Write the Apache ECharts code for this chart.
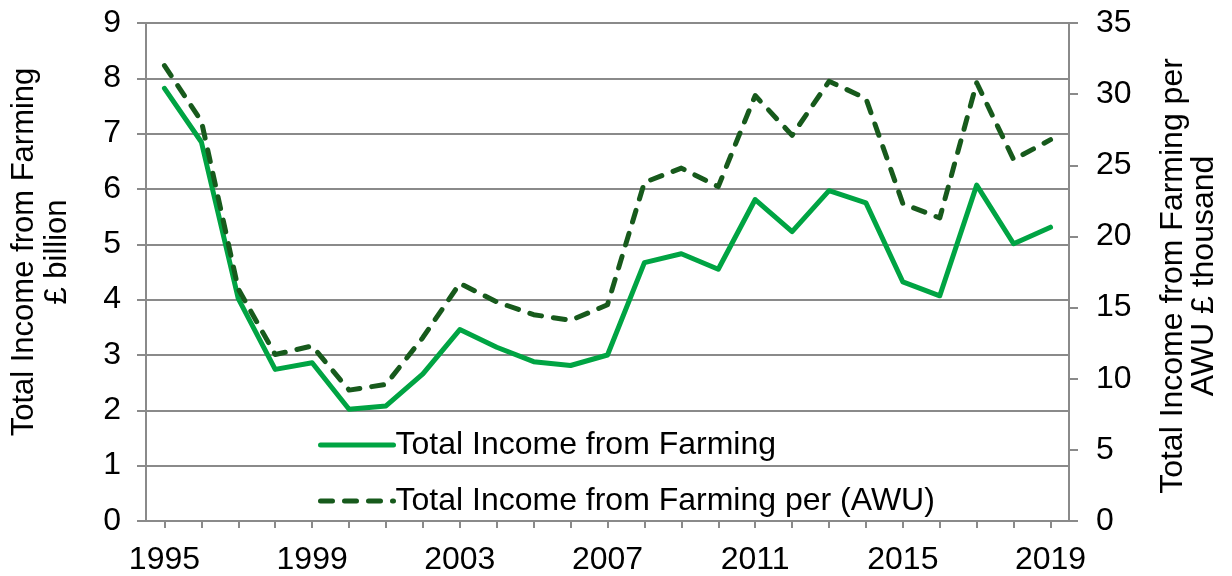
<!DOCTYPE html>
<html>
<head>
<meta charset="utf-8">
<script src="https://cdn.jsdelivr.net/npm/echarts@6/dist/echarts.min.js"></script>
<style>
html,body{margin:0;padding:0;background:#fff;}
#chart{width:1232px;height:576px;}
</style>
</head>
<body>
<div id="chart"></div>
<script>
const years = ['1995','1996','1997','1998','1999','2000','2001','2002','2003','2004','2005','2006','2007','2008','2009','2010','2011','2012','2013','2014','2015','2016','2017','2018','2019'];
const incomeBillion = [7.82,6.85,4.02,2.74,2.86,2.02,2.08,2.66,3.46,3.14,2.88,2.81,3.0,4.67,4.83,4.55,5.81,5.23,5.97,5.75,4.32,4.07,6.07,5.01,5.31];
const incomePerAWU = [32.0,28.1,16.3,11.7,12.3,9.2,9.6,12.9,16.7,15.4,14.5,14.1,15.2,23.8,24.8,23.5,29.9,27.1,30.9,29.7,22.3,21.3,30.8,25.4,26.8];
const leftTicks = {min:0, max:9, interval:1};
const rightTicks = {min:0, max:35, interval:5};
const seriesNames = ['Total Income from Farming','Total Income from Farming per (AWU)'];
const leftAxisName = 'Total Income from Farming\n£ billion';
const rightAxisName = 'Total Income from Farming per\nAWU £ thousand';

const FONT = '"Liberation Sans", Arial, sans-serif';
const GRID = '#8a8a8a';
const C1 = '#00A443';
const C2 = '#175A1C';
const chart = echarts.init(document.getElementById('chart'), null, {renderer:'canvas'});
chart.setOption({
  animation:false,
  backgroundColor:'#fff',
  textStyle:{fontFamily:FONT, color:'#000'},
  grid:{left:142, right:163, top:23, bottom:54, containLabel:false},
  legend:{
    orient:'vertical', left:313, top:424, itemWidth:73, itemHeight:12, itemGap:24,
    textStyle:{fontFamily:FONT, fontSize:32, color:'#000', padding:[0,0,0,-3]},
    itemStyle:{opacity:0},
    lineStyle:{width:5, cap:'round'},
    data:seriesNames
  },
  xAxis:{
    type:'category', data:years, boundaryGap:true,
    axisLine:{show:true, lineStyle:{color:GRID, width:2}},
    axisTick:{show:true, alignWithLabel:true, interval:0, length:7, lineStyle:{color:GRID, width:2}},
    axisLabel:{interval:3, fontSize:32, color:'#000', fontFamily:FONT, margin:23},
    splitLine:{show:false}
  },
  yAxis:[
    {type:'value', min:leftTicks.min, max:leftTicks.max, interval:leftTicks.interval, position:'left',
     name:leftAxisName, nameLocation:'middle', nameRotate:90, nameGap:72,
     nameTextStyle:{fontFamily:FONT, fontSize:31, color:'#000', lineHeight:33, align:'center', padding:[0,0,0,40]},
     axisLine:{show:true, lineStyle:{color:GRID, width:2}},
     axisTick:{show:true, length:9, lineStyle:{color:GRID, width:2}},
     axisLabel:{fontSize:32, color:'#000', fontFamily:FONT, margin:25},
     splitLine:{show:true, lineStyle:{color:GRID, width:2}}
    },
    {type:'value', min:rightTicks.min, max:rightTicks.max, interval:rightTicks.interval, position:'right',
     name:rightAxisName, nameLocation:'middle', nameRotate:90, nameGap:89,
     nameTextStyle:{fontFamily:FONT, fontSize:32, color:'#000', lineHeight:31, align:'center', padding:[0,8,0,0]},
     axisLine:{show:true, lineStyle:{color:GRID, width:2}},
     axisTick:{show:true, length:9, lineStyle:{color:GRID, width:2}},
     axisLabel:{fontSize:32, color:'#000', fontFamily:FONT, margin:27},
     splitLine:{show:false}
    }
  ],
  series:[
    {name:seriesNames[0], type:'line', yAxisIndex:0, data:incomeBillion, symbol:'none',
     color:C1, lineStyle:{color:C1, width:5, cap:'round', join:'round'}},
    {name:seriesNames[1], type:'line', yAxisIndex:1, data:incomePerAWU, symbol:'none',
     color:C2, lineStyle:{color:C2, width:5, type:[12,12], cap:'round', join:'round'}}
  ]
});
</script>
</body>
</html>
